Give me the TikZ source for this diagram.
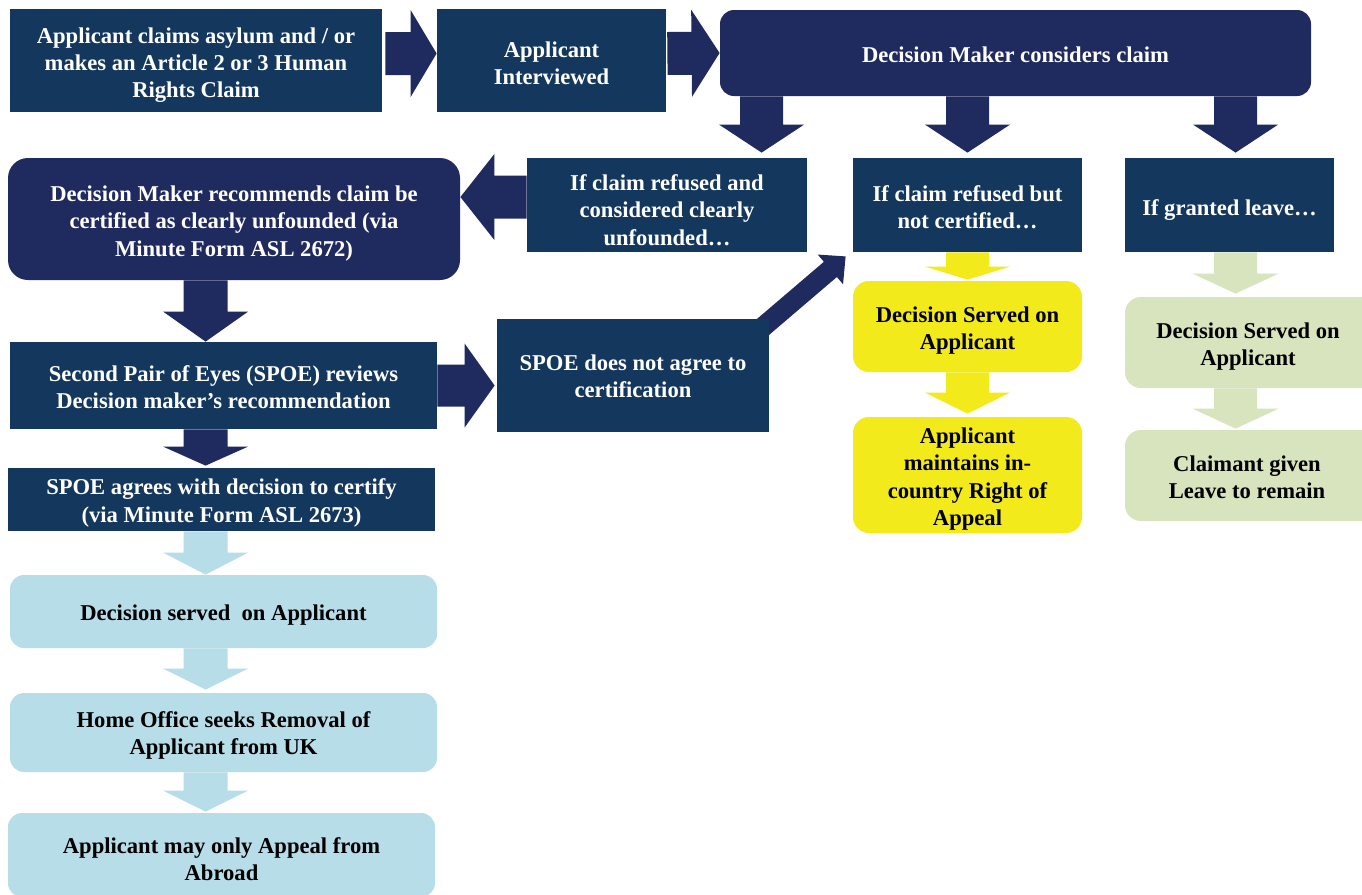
\documentclass[tikz,border=0pt]{standalone}
\usepackage{fontspec}
\setmainfont{Liberation Serif}
\usetikzlibrary{calc,backgrounds}
\definecolor{navy}{HTML}{14375E}
\definecolor{dnavy}{HTML}{1F2A5E}
\definecolor{yel}{HTML}{F2EA1A}
\definecolor{lgreen}{HTML}{D7E4BD}
\definecolor{lblue}{HTML}{B7DDE8}
% name, x1, y1, x2, y2, style, text, text dx, text dy (px)
\newcommand\mkbox[9]{%
  \node[#6, minimum width={(#4-#2)*0.5pt}, minimum height={(#5-#3)*0.5pt}] (#1) at ({(#2+#4)/2},{(#3+#5)/2}) {};
  \node[#6, fill=none, draw=none] (#1-t) at ($(#1.center)+(#8,#9)$) {#7};}
% color, start, tip, half shaft, half head, head length
\newcommand\barrow[6]{%
  \coordinate (bh) at ($(#3)!#6!(#2)$);
  \fill[#1] ($(#2)!#4!90:(#3)$) -- ($(bh)!#4!90:(#3)$) -- ($(bh)!#5!90:(#3)$) -- (#3)
    -- ($(bh)!#5!-90:(#3)$) -- ($(bh)!#4!-90:(#3)$) -- ($(#2)!#4!-90:(#3)$) -- cycle;}
\tikzset{
  base/.style={inner sep=0pt, align=center, font=\fontsize{11.3}{13.6}\selectfont\bfseries},
  navybox/.style={base, fill=navy, text=white},
  dnavybox/.style={base, fill=dnavy, text=white, rounded corners=#1},
  bluebox/.style={base, fill=lblue, text=black, rounded corners=7pt},
  yelbox/.style={base, fill=yel, text=black, rounded corners=8pt},
  greenbox/.style={base, fill=lgreen, text=black, rounded corners=8pt}
}
\begin{document}
\begin{tikzpicture}[x=0.5pt,y=-0.5pt]
\useasboundingbox (0,0) rectangle (1362,895);
\begin{pgfonlayer}{background}
\fill[white] (0,0) rectangle (1362,895);
\end{pgfonlayer}

\mkbox{a1}{10}{9}{382}{112}{navybox}{Applicant claims asylum and / or\\makes an Article 2 or 3 Human\\Rights Claim}{0}{4.5}
\mkbox{a2}{437}{9}{666}{112}{navybox}{Applicant\\Interviewed}{0}{3}
\mkbox{dm}{720}{10}{1311}{96}{dnavybox=7pt}{Decision Maker considers claim}{0}{2}
\mkbox{b1}{527}{158}{807}{252}{navybox}{If claim refused and\\considered clearly\\unfounded…}{0}{5}
\mkbox{b2}{853}{158}{1082}{252}{navybox}{If claim refused but\\not certified…}{0}{2.5}
\mkbox{b3}{1125}{158}{1334}{252}{navybox}{If granted leave…}{0}{5}
\mkbox{dmr}{8}{158}{460}{280}{dnavybox=10pt}{Decision Maker recommends claim be\\certified as clearly unfounded (via\\Minute Form ASL 2672)}{0}{4.5}
\mkbox{spoe}{10}{342}{437}{429}{navybox}{Second Pair of Eyes (SPOE) reviews\\Decision maker’s recommendation}{0}{2}
\mkbox{spoeno}{497}{319}{769}{432}{navybox}{SPOE does not agree to\\certification}{0}{1}
\mkbox{sa}{8}{468}{435}{531}{navybox}{SPOE agrees with decision to certify\\(via Minute Form ASL 2673)}{0}{3.5}
\mkbox{lb1}{10}{575}{437}{648}{bluebox}{Decision served\ \ on Applicant}{0}{4}
\mkbox{lb2}{10}{693}{437}{772}{bluebox}{Home Office seeks Removal of\\Applicant from UK}{0}{3}
\mkbox{lb3}{8}{813}{435}{897}{bluebox}{Applicant may only Appeal from\\Abroad}{0}{4}
\mkbox{y1}{853}{281}{1082}{372}{yelbox}{Decision Served on\\Applicant}{0}{4}
\mkbox{y2}{853}{417}{1082}{533}{yelbox}{Applicant\\maintains in-\\country Right of\\Appeal}{0}{4}
\mkbox{g1}{1125}{297}{1390}{388}{greenbox}{Decision Served on\\Applicant}{-9.5}{4}
\mkbox{g2}{1125}{430}{1390}{521}{greenbox}{Claimant given\\Leave to remain}{-10.5}{2}

\begin{pgfonlayer}{background}
% top row
\coordinate (s) at ($(a1.east)+(3,-7)$);
\coordinate (t) at ($(a2.west)+(0,-7)$);
\barrow{dnavy}{s}{t}{10.75pt}{21.75pt}{13pt}
\coordinate (s) at ($(a2.east)+(1,-7)$);
\coordinate (t) at (dm.west);
\barrow{dnavy}{s}{t}{10.75pt}{21.75pt}{14pt}
% from decision maker down
\coordinate (s) at ($(dm.south west)+(42,0)$);
\coordinate (t) at ($(s|-b1.north)+(0,-5)$);
\barrow{dnavy}{s}{t}{10.75pt}{21.25pt}{14pt}
\coordinate (s) at (dm.south-|b2.north);
\coordinate (t) at ($(b2.north)+(0,-5)$);
\barrow{dnavy}{s}{t}{10.75pt}{21.25pt}{14pt}
\coordinate (s) at ($(dm.south west)+(516,0)$);
\coordinate (t) at ($(s|-b3.north)+(0,-5)$);
\barrow{dnavy}{s}{t}{10.75pt}{21.25pt}{14pt}
% refused and unfounded -> recommendation
\coordinate (s) at ($(b1.west)+(0,-8)$);
\coordinate (t) at ($(dmr.east)+(0,-22)$);
\barrow{dnavy}{s}{t}{10.75pt}{21.5pt}{17pt}
% left column
\coordinate (s) at ($(dmr.south west)+(198,0)$);
\coordinate (t) at (s|-spoe.north);
\barrow{dnavy}{s}{t}{11pt}{21.25pt}{15pt}
\coordinate (s) at ($(spoe.south west)+(196,0)$);
\coordinate (t) at ($(s|-sa.north)+(0,-2)$);
\barrow{dnavy}{s}{t}{11pt}{21.25pt}{9.5pt}
\coordinate (s) at ($(sa.south west)+(198,0)$);
\coordinate (t) at (s|-lb1.north);
\barrow{lblue}{s}{t}{11pt}{21.25pt}{11pt}
\coordinate (s) at ($(lb1.south west)+(196,0)$);
\coordinate (t) at ($(s|-lb2.north)+(0,-3)$);
\barrow{lblue}{s}{t}{11pt}{21.25pt}{10.5pt}
\coordinate (s) at ($(lb2.south west)+(196,0)$);
\coordinate (t) at ($(s|-lb3.north)+(0,-1)$);
\barrow{lblue}{s}{t}{11pt}{21.25pt}{10.5pt}
% SPOE -> does not agree
\coordinate (s) at (spoe.east);
\coordinate (t) at ($(spoeno.west|-spoe.east)+(-2,0)$);
\barrow{dnavy}{s}{t}{10.5pt}{21pt}{15pt}
% does not agree -> refused but not certified
\coordinate (s) at ($(spoeno.north east)+(-13,14)$);
\coordinate (t) at ($(b2.south west)+(-7,4)$);
\barrow{dnavy}{s}{t}{5pt}{9.75pt}{10pt}
% yellow
\coordinate (s) at (b2.south);
\coordinate (t) at ($(y1.north)+(0,-1)$);
\barrow{yel}{s}{t}{10.75pt}{21.25pt}{6.5pt}
\coordinate (s) at (y1.south);
\coordinate (t) at ($(y2.north)+(0,-3)$);
\barrow{yel}{s}{t}{10.75pt}{21.25pt}{10.5pt}
% green
\coordinate (s) at ($(b3.south west)+(111,0)$);
\coordinate (t) at ($(s|-g1.north)+(0,-3)$);
\barrow{lgreen}{s}{t}{10.75pt}{21.5pt}{10pt}
\coordinate (s) at ($(g1.south west)+(111,0)$);
\coordinate (t) at ($(s|-g2.north)+(0,-1)$);
\barrow{lgreen}{s}{t}{10.75pt}{21.5pt}{10pt}
\end{pgfonlayer}
\end{tikzpicture}
\end{document}
